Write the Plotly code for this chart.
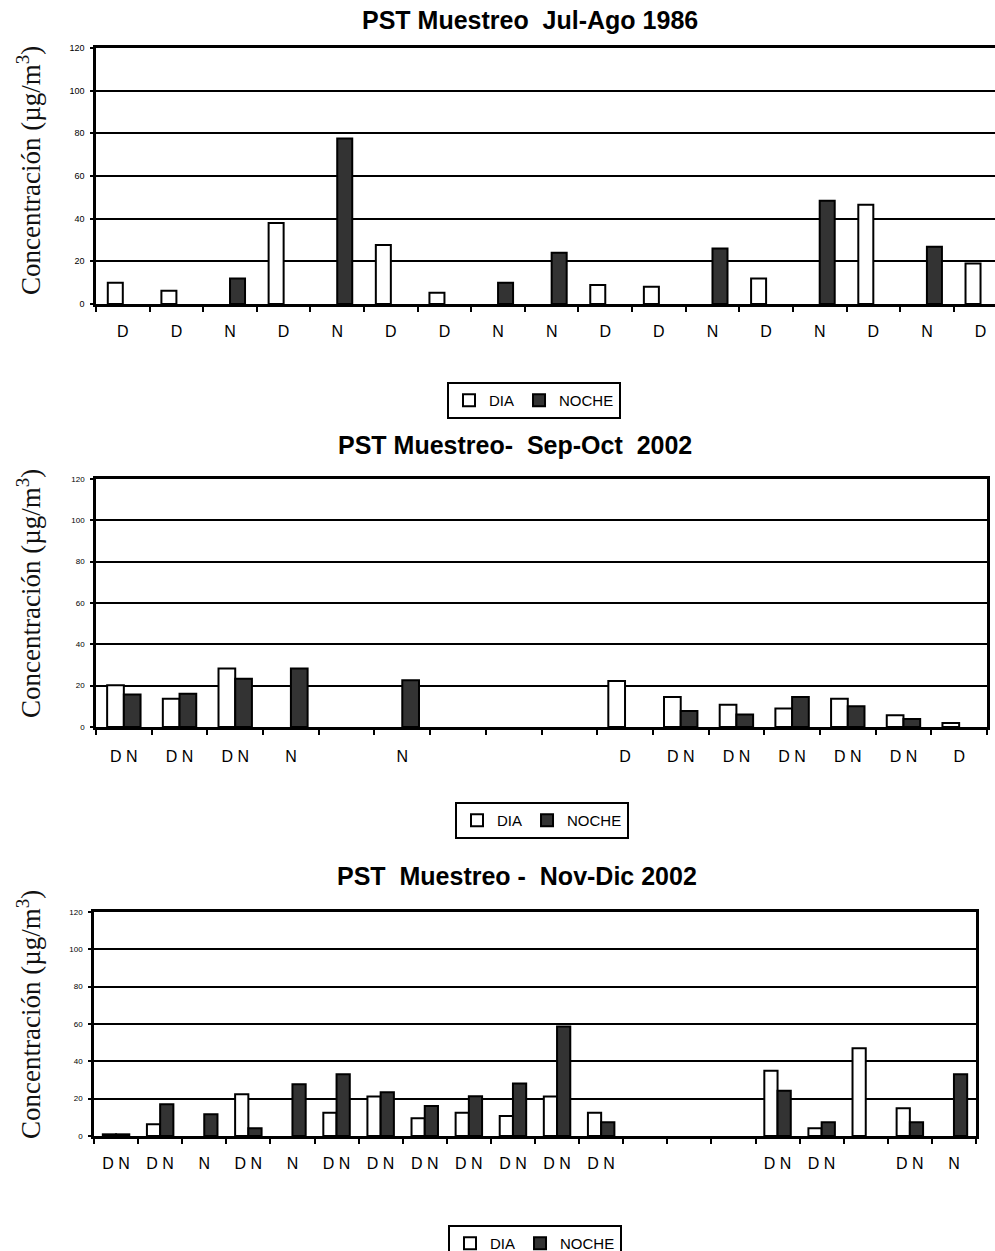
import plotly.graph_objects as go

# ---------------- data ----------------
labels1 = ["D", "D", "N", "D", "N", "D", "D", "N", "N", "D", "D", "N", "D", "N", "D", "N", "D"]
dia1 = [10, 6.2, None, 38, None, 27.6, 5.3, None, None, 8.9, 8.1, None, 12, None, 46.5, None, 19]
noche1 = [None, None, 12, None, 77.6, None, None, 10, 24, None, None, 26, None, 48.4, None, 26.8, None]

labels2 = ["D N", "D N", "D N", "N", "", "N", "", "", "", "D", "D N", "D N", "D N", "D N", "D N", "D"]
dia2 = [20.2, 13.7, 28.3, None, None, None, None, None, None, 22.3, 14.5, 10.8, 8.9, 13.7, 5.7, 1.9]
noche2 = [15.7, 16.1, 23.4, 28.3, None, 22.6, None, None, None, None, 7.7, 6.0, 14.5, 10.0, 3.9, None]

labels3 = ["D N", "D N", "N", "D N", "N", "D N", "D N", "D N", "D N", "D N", "D N", "D N",
           "", "", "", "D N", "D N", "", "D N", "N"]
dia3 = [0.9, 6.3, None, 22.4, None, 12.5, 21.1, 9.5, 12.5, 10.7, 21.1, 12.5,
        None, None, None, 35.0, 4.1, 47.0, 14.8, None]
noche3 = [0.9, 17.0, 11.6, 4.1, 27.7, 33.1, 23.4, 16.1, 21.3, 28.1, 58.7, 7.3,
          None, None, None, 24.3, 7.3, None, 7.3, 33.1]

titles = ["PST Muestreo\u00a0 Jul-Ago 1986",
          "PST Muestreo-\u00a0 Sep-Oct\u00a0 2002",
          "PST\u00a0 Muestreo -\u00a0 Nov-Dic 2002"]
series_names = ["DIA", "NOCHE"]
y_ticks = [0, 20, 40, 60, 80, 100, 120]
y_title = "Concentración (µg/m<sup>3</sup>)"

# ---------------- layout config ----------------
W, H = 995, 1251
SANS = "Liberation Sans, Arial, sans-serif"
SERIF = "Liberation Serif, Times New Roman, serif"


def fx(px):
    return px / W


def fy(py):
    return 1 - py / H


panels = [
    dict(labels=labels1, dia=dia1, noche=noche1, x0=96, x1=995, ytop=48, ybot=304,
         xend=17.27, w=0.28, mirror_y=False, title_xy=(530, 20), leg_xy=(534, 382),
         ytitle_y=171, tickfont=9, standoff=11),
    dict(labels=labels2, dia=dia2, noche=noche2, x0=96, x1=987, ytop=479, ybot=727,
         xend=16.5, w=0.30, mirror_y=True, title_xy=(515, 445), leg_xy=(542, 802),
         ytitle_y=594, tickfont=8, standoff=13),
    dict(labels=labels3, dia=dia3, noche=noche3, x0=94, x1=976, ytop=912, ybot=1136,
         xend=20.5, w=0.30, mirror_y=True, title_xy=(517, 876), leg_xy=(535, 1225),
         ytitle_y=1015, tickfont=8, standoff=11),
]

fig = go.Figure()
annotations = []
layout = {}

for i, p in enumerate(panels):
    s = "" if i == 0 else str(i + 1)
    n = len(p["labels"])
    xs = list(range(1, n + 1))
    w = p["w"]
    leg = "legend" + s
    fig.add_trace(go.Bar(
        x=xs, y=p["dia"], width=w, offset=-w, name=series_names[0],
        marker=dict(color="white", line=dict(color="black", width=2)),
        xaxis="x" + s, yaxis="y" + s, legend=leg, hoverinfo="skip"))
    fig.add_trace(go.Bar(
        x=xs, y=p["noche"], width=w, offset=0, name=series_names[1],
        marker=dict(color="#333333", line=dict(color="black", width=2)),
        xaxis="x" + s, yaxis="y" + s, legend=leg, hoverinfo="skip"))

    tv = [x for x, lab in zip(xs, p["labels"]) if lab]
    tt = [lab for lab in p["labels"] if lab]
    layout["xaxis" + s] = dict(
        domain=[fx(p["x0"]), min(1, fx(p["x1"]))], anchor="y" + s,
        range=[0.5, p["xend"]], tickmode="array", tickvals=tv, ticktext=tt,
        ticks="", showline=True, linecolor="black", linewidth=2.5, mirror=True,
        showgrid=False, zeroline=False, tickfont=dict(family=SANS, size=16, color="black"),
        ticklabelstandoff=p["standoff"], automargin=False,
        minor=dict(tickmode="array", tickvals=[k + 0.5 for k in range(0, n + 1)],
                   ticks="outside", ticklen=5, tickwidth=2, tickcolor="black", showgrid=False),
        fixedrange=True)
    layout["yaxis" + s] = dict(
        domain=[fy(p["ybot"]), fy(p["ytop"])], anchor="x" + s,
        range=[0, 120], tickmode="array", tickvals=y_ticks,
        showgrid=True, gridcolor="black", gridwidth=1.5,
        showline=True, linecolor="black", linewidth=2.5, mirror=p["mirror_y"],
        ticks="outside", ticklen=3, tickwidth=1.5, tickcolor="black",
        zeroline=False, tickfont=dict(family=SANS, size=p["tickfont"], color="black"),
        ticklabelstandoff=4, automargin=False, fixedrange=True)
    layout[leg] = dict(
        x=fx(p["leg_xy"][0]), y=fy(p["leg_xy"][1]), xanchor="center", yanchor="top",
        orientation="h", bordercolor="black", borderwidth=2, bgcolor="white",
        font=dict(family=SANS, size=15, color="black"), itemwidth=30, traceorder="normal",
        tracegroupgap=0)

    annotations.append(dict(
        text="<b>%s</b>" % titles[i], x=fx(p["title_xy"][0]), y=fy(p["title_xy"][1]),
        xref="paper", yref="paper", xanchor="center", yanchor="middle", showarrow=False,
        font=dict(family=SANS, size=25, color="black")))
    annotations.append(dict(
        text=y_title, x=fx(29), y=fy(p["ytitle_y"]), xref="paper", yref="paper",
        xanchor="center", yanchor="middle", textangle=-90, showarrow=False,
        font=dict(family=SERIF, size=27, color="#111111")))

fig.update_layout(
    width=W, height=H, margin=dict(l=0, r=0, t=0, b=0, autoexpand=False),
    paper_bgcolor="white", plot_bgcolor="white",
    barmode="overlay", showlegend=True, annotations=annotations,
    font=dict(family=SANS, color="black"), **layout)

fig.write_html("out.html", config={"displayModeBar": False},
               post_script="document.body.style.margin='0';"
                           "document.body.style.overflow='hidden';")
